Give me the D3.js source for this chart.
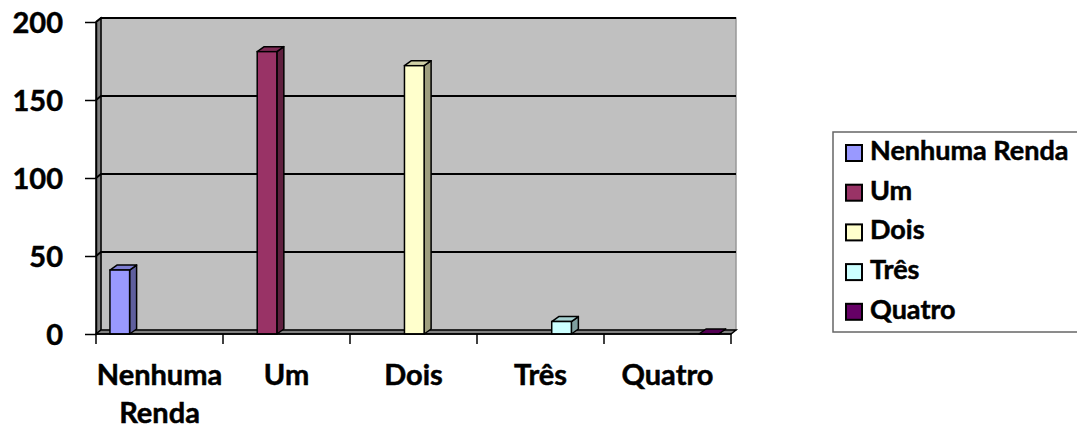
<!DOCTYPE html>
<html>
<head>
<meta charset="utf-8">
<script src="https://cdn.jsdelivr.net/npm/d3@7"></script>
<style>
  body { margin: 0; background: #fff; }
  text { font-family: Lato, "Liberation Sans", sans-serif; font-weight: bold; fill: #000; stroke: #000; stroke-width: 0.5px; }
</style>
</head>
<body>
<div id="chart"></div>
<script>
// chart data
var categories = ["Nenhuma Renda", "Um", "Dois", "Três", "Quatro"];
var seriesNames = ["Nenhuma Renda", "Um", "Dois", "Três", "Quatro"];
var seriesValues = [41, 181, 172, 8, 0];
var seriesColors = ["#9999FF", "#993366", "#FFFFCC", "#CCFFFF", "#660066"];
var yTicks = [0, 50, 100, 150, 200];

var svgWidth = 1077;
var svgHeight = 430;

// front plane of the 3D plot area
var plot = { left: 96, right: 731, top: 22, bottom: 334 };
var wallDepth = { dx: 5, dy: 4 };
var barDepth = { dx: 7, dy: 5 };

var svg = d3.select("#chart")
  .append("svg")
  .attr("width", svgWidth)
  .attr("height", svgHeight);

var xScale = d3.scaleBand()
  .domain(categories)
  .range([plot.left, plot.right]);

var xSeries = d3.scaleBand()
  .domain(seriesNames)
  .range([0, xScale.bandwidth()])
  .paddingInner(0.03)
  .paddingOuter(0.65)
  .align(0.53);

var yScale = d3.scaleLinear()
  .domain([0, 200])
  .range([plot.bottom, plot.top]);

// shade a face colour like Excel does for 3D sides
function shade(c, k) {
  var rgb = d3.rgb(c);
  return d3.rgb(rgb.r * k, rgb.g * k, rgb.b * k).formatHex();
}

// Back wall, side wall and floor
var wd = wallDepth;
svg.append("rect")
  .attr("x", plot.left + wd.dx)
  .attr("y", plot.top - wd.dy)
  .attr("width", plot.right - plot.left)
  .attr("height", plot.bottom - plot.top)
  .attr("fill", "#C0C0C0")
  .attr("stroke", "#999")
  .attr("stroke-width", 1.5);

svg.append("line")
  .attr("x1", plot.left + wd.dx).attr("x2", plot.right + wd.dx)
  .attr("y1", plot.top - wd.dy).attr("y2", plot.top - wd.dy)
  .attr("stroke", "#000").attr("stroke-width", 2);

svg.append("polygon")
  .attr("points", [
    [plot.left, plot.top], [plot.left + wd.dx, plot.top - wd.dy],
    [plot.left + wd.dx, plot.bottom - wd.dy], [plot.left, plot.bottom]
  ].join(" "))
  .attr("fill", "#808080")
  .attr("stroke", "#000")
  .attr("stroke-width", 1.5);

svg.append("polygon")
  .attr("points", [
    [plot.left, plot.bottom], [plot.left + wd.dx, plot.bottom - wd.dy],
    [plot.right + wd.dx, plot.bottom - wd.dy], [plot.right, plot.bottom]
  ].join(" "))
  .attr("fill", "#808080")
  .attr("stroke", "#000")
  .attr("stroke-width", 1.5);

// gridlines
svg.selectAll(".grid")
  .data(yTicks.filter(d => d > 0))
  .enter()
  .append("polyline")
  .attr("points", d => [
    [plot.left, yScale(d)], [plot.left + wd.dx, yScale(d) - wd.dy],
    [plot.right + wd.dx, yScale(d) - wd.dy]
  ].join(" "))
  .attr("fill", "none")
  .attr("stroke", "#000")
  .attr("stroke-width", 2);

// Y axis
var leftAxis = d3.axisLeft(yScale)
  .tickValues(yTicks)
  .tickSize(11)
  .tickSizeOuter(0)
  .tickPadding(22);

var yAxisG = svg.append("g")
  .attr("transform", `translate(${plot.left}, 0)`)
  .call(leftAxis);
yAxisG.selectAll("path, line").attr("stroke", "#000").attr("stroke-width", 1.5);
yAxisG.selectAll("text").style("font-size", "29px").attr("dy", "0.36em");

// bars: each series sits in its own category slot
var bars = seriesNames.map((s, i) => ({
  name: s, category: categories[i], value: seriesValues[i], color: seriesColors[i]
}));

var barG = svg.selectAll(".bar")
  .data(bars)
  .enter()
  .append("g")
  .attr("class", "bar");

var bd = barDepth;
function bx0(d) { return xScale(d.category) + xSeries(d.name); }
function bx1(d) { return bx0(d) + xSeries.bandwidth(); }

barG.append("polygon")
  .attr("points", d => [
    [bx1(d), yScale(d.value)], [bx1(d) + bd.dx, yScale(d.value) - bd.dy],
    [bx1(d) + bd.dx, yScale(0) - bd.dy], [bx1(d), yScale(0)]
  ].join(" "))
  .attr("fill", d => shade(d.color, 0.62))
  .attr("stroke", "#000")
  .attr("stroke-width", 1.5)
  .attr("stroke-linejoin", "round");

barG.append("polygon")
  .attr("points", d => [
    [bx0(d), yScale(d.value)], [bx0(d) + bd.dx, yScale(d.value) - bd.dy],
    [bx1(d) + bd.dx, yScale(d.value) - bd.dy], [bx1(d), yScale(d.value)]
  ].join(" "))
  .attr("fill", d => shade(d.color, 0.82))
  .attr("stroke", "#000")
  .attr("stroke-width", 1.5)
  .attr("stroke-linejoin", "round");

barG.filter(d => d.value > 0)
  .append("rect")
  .attr("x", d => bx0(d))
  .attr("y", d => yScale(d.value))
  .attr("width", xSeries.bandwidth())
  .attr("height", d => yScale(0) - yScale(d.value))
  .attr("fill", d => d.color)
  .attr("stroke", "#000")
  .attr("stroke-width", 1.5);

// X axis
var bottomAxis = d3.axisBottom(xScale).tickSize(0).tickPadding(0);
var xAxisG = svg.append("g")
  .attr("transform", `translate(0, ${plot.bottom})`)
  .call(bottomAxis);
xAxisG.select("path").remove();
xAxisG.append("line")
  .attr("x1", plot.left).attr("x2", plot.right)
  .attr("stroke", "#000").attr("stroke-width", 1.5);
xAxisG.selectAll(".sep")
  .data(categories.map(c => xScale(c)).concat([plot.right]))
  .enter()
  .append("line")
  .attr("x1", d => d).attr("x2", d => d)
  .attr("y1", 0).attr("y2", 10)
  .attr("stroke", "#000").attr("stroke-width", 1.5);

xAxisG.selectAll(".tick text")
  .style("font-size", "29px")
  .each(function(d) {
    var t = d3.select(this);
    var words = d.split(" ");
    t.text(null).attr("y", 0).attr("dy", null);
    var lines = [];
    var line = [];
    words.forEach(w => {
      var test = line.concat([w]).join(" ");
      t.text(test);
      if (line.length && this.getComputedTextLength() > xScale.bandwidth() - 6) {
        lines.push(line.join(" "));
        line = [w];
      } else {
        line.push(w);
      }
    });
    lines.push(line.join(" "));
    t.text(null);
    lines.forEach((l, i) => {
      t.append("tspan").attr("x", 0).attr("y", 51 + i * 38).text(l);
    });
  });

// Legend
var legend = svg.append("g").attr("transform", "translate(833, 132)");
legend.append("rect")
  .attr("width", 300)
  .attr("height", 200)
  .attr("fill", "#fff")
  .attr("stroke", "#666")
  .attr("stroke-width", 1.5);

var legendItem = legend.selectAll(".legend-item")
  .data(bars)
  .enter()
  .append("g")
  .attr("transform", (d, i) => `translate(13, ${28 + i * 39.7})`);

legendItem.append("rect")
  .attr("x", 0)
  .attr("y", -15)
  .attr("width", 16)
  .attr("height", 16)
  .attr("fill", d => d.color)
  .attr("stroke", "#000")
  .attr("stroke-width", 2);

legendItem.append("text")
  .attr("x", 24)
  .attr("y", 0)
  .style("font-size", "27px")
  .text(d => d.name);
</script>
</body>
</html>
